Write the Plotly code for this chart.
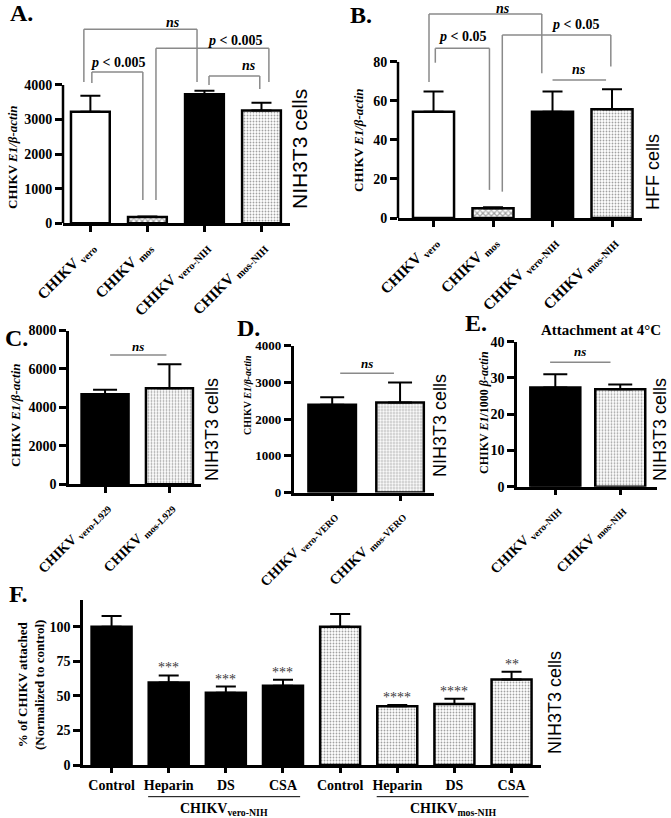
import plotly.graph_objects as go

W, H = 671, 818
SERIF = "Liberation Serif"
SANS = "Liberation Sans"

# ---------------- data ----------------
A_cats = ["CHIKV <sub>vero</sub>", "CHIKV <sub>mos</sub>", "CHIKV <sub>vero-NIH</sub>", "CHIKV <sub>mos-NIH</sub>"]
A_vals = [3225, 180, 3730, 3265]
A_errs = [465, 20, 100, 220]
A_fill = ["white", "checker", "black", "dots"]

B_cats = ["CHIKV <sub>vero</sub>", "CHIKV <sub>mos</sub>", "CHIKV <sub>vero-NIH</sub>", "CHIKV <sub>mos-NIH</sub>"]
B_vals = [54.5, 5.0, 54.5, 55.7]
B_errs = [10.3, 0.5, 10.3, 10.3]
B_fill = ["white", "checker", "black", "dots"]

C_cats = ["CHIKV <sub>vero-L929</sub>", "CHIKV <sub>mos-L929</sub>"]
C_vals = [4690, 5000]
C_errs = [225, 1250]
C_fill = ["black", "dots"]

D_cats = ["CHIKV <sub>vero-VERO</sub>", "CHIKV <sub>mos-VERO</sub>"]
D_vals = [2385, 2450]
D_errs = [210, 545]
D_fill = ["black", "dots"]

E_cats = ["CHIKV <sub>vero-NIH</sub>", "CHIKV <sub>mos-NIH</sub>"]
E_vals = [27.4, 26.9]
E_errs = [3.6, 1.3]
E_fill = ["black", "dots"]

F_cats = ["Control", "Heparin", "DS", "CSA", "Control", "Heparin", "DS", "CSA"]
F_vals = [100, 59.7, 52.2, 57.3, 100, 42.5, 44.2, 61.9]
F_errs = [7.8, 5.1, 4.6, 4.4, 9.2, 1.0, 3.8, 5.6]
F_fill = ["black"] * 4 + ["dots"] * 4
F_stars = ["", "***", "***", "***", "", "****", "****", "**"]
F_groups = ["CHIKV<sub>vero-NIH</sub>", "CHIKV<sub>mos-NIH</sub>"]
F_group_members = [(1, 3), (5, 7)]

# ---------------- styles ----------------
STYLE = {
    "white":   dict(color="white", shape="", fg="black", size=4, sol=0.3),
    "black":   dict(color="black", shape="", fg="black", size=4, sol=0.3),
    "checker": dict(color="white", shape="x", fg="black", size=4, sol=0.5),
    "dots":    dict(color="white", shape=".", fg="#555555", size=3, sol=0.3),
}

panels = [
    dict(cats=A_cats, vals=A_vals, errs=A_errs, fills=A_fill, xd=(63, 290), xr=(-0.48, 3.5),
         yd=(12, 223.3), yr=(0, 6111), yt=[0, 1000, 2000, 3000, 4000], ytop=4000,
         width=0.68, cap=10, angle=-45, ytf=14, xtf=15, xtl=6, manual_line=True),
    dict(cats=B_cats, vals=B_vals, errs=B_errs, fills=B_fill, xd=(398, 642), xr=(-0.597, 3.504),
         yd=(4, 218), yr=(0, 109.7), yt=[0, 20, 40, 60, 80], ytop=80,
         width=0.69, cap=10, angle=-45, ytf=14, xtf=15, xtl=6, manual_line=True),
    dict(cats=C_cats, vals=C_vals, errs=C_errs, fills=C_fill, xd=(69, 201), xr=(-0.56, 1.49),
         yd=(330.5, 484.3), yr=(0, 8000), yt=[0, 2000, 4000, 6000, 8000], ytop=8000,
         width=0.73, cap=12, angle=-45, ytf=14, xtf=14, xtl=6, manual_line=False),
    dict(cats=D_cats, vals=D_vals, errs=D_errs, fills=D_fill, xd=(293.5, 434), xr=(-0.57, 1.5),
         yd=(345.5, 492.5), yr=(0, 4000), yt=[0, 1000, 2000, 3000, 4000], ytop=4000,
         width=0.70, cap=12, angle=-45, ytf=13, xtf=14, xtl=6, manual_line=False),
    dict(cats=E_cats, vals=E_vals, errs=E_errs, fills=E_fill, xd=(517, 656.6), xr=(-0.59, 1.56),
         yd=(341.7, 486.7), yr=(0, 40), yt=[0, 10, 20, 30, 40], ytop=40,
         width=0.77, cap=12, angle=-45, ytf=14, xtf=14, xtl=6, manual_line=False),
    dict(cats=F_cats, vals=F_vals, errs=F_errs, fills=F_fill, xd=(83, 540.7), xr=(-0.5, 7.51),
         yd=(600, 765), yr=(0, 119.4), yt=[0, 25, 50, 75, 100], ytop=100,
         width=0.70, cap=10, angle=0, ytf=14, xtf=14, xtl=5, manual_line=False),
]


def px_x(p):
    return p / W


def px_y(p):
    return 1 - p / H


fig = go.Figure()
layout = dict(width=W, height=H, margin=dict(l=0, r=0, t=0, b=0, pad=0), autosize=False,
              paper_bgcolor="white", plot_bgcolor="rgba(0,0,0,0)", showlegend=False)
shapes = []
annotations = []

for i, p in enumerate(panels, start=1):
    xn = "x" if i == 1 else f"x{i}"
    yn = "y" if i == 1 else f"y{i}"
    xk = "xaxis" if i == 1 else f"xaxis{i}"
    yk = "yaxis" if i == 1 else f"yaxis{i}"
    n = len(p["vals"])
    st = [STYLE[f] for f in p["fills"]]
    fig.add_trace(go.Bar(
        x=list(range(n)), y=p["vals"], width=p["width"], xaxis=xn, yaxis=yn,
        marker=dict(color=[s["color"] for s in st],
                    line=dict(color="black", width=2.5),
                    pattern=dict(shape=[s["shape"] for s in st],
                                 fgcolor=[s["fg"] for s in st],
                                 bgcolor=[s["color"] for s in st],
                                 size=[s["size"] for s in st],
                                 solidity=[s["sol"] for s in st],
                                 fillmode="overlay")),
        error_y=dict(type="data", symmetric=False, array=p["errs"], arrayminus=[0] * n,
                     color="black", thickness=2, width=p["cap"]),
        hoverinfo="skip",
    ))
    layout[xk] = dict(domain=[px_x(p["xd"][0]), px_x(p["xd"][1])], range=list(p["xr"]),
                      anchor=yn, tickmode="array", tickvals=list(range(n)), ticktext=p["cats"],
                      tickangle=p["angle"], automargin=False,
                      tickfont=dict(family=SERIF, size=p["xtf"], color="black", weight="bold"),
                      showline=True, linewidth=2.5, linecolor="black",
                      ticks="outside", ticklen=p["xtl"], tickwidth=2.5, tickcolor="black",
                      showgrid=False, zeroline=False, fixedrange=True)
    layout[yk] = dict(domain=[px_y(p["yd"][1]), px_y(p["yd"][0])], range=list(p["yr"]),
                      anchor=xn, tickmode="array", tickvals=p["yt"], automargin=False,
                      tickfont=dict(family=SERIF, size=p["ytf"], color="black", weight="bold"),
                      showline=not p["manual_line"], linewidth=2.5, linecolor="black",
                      ticks="outside", ticklen=7, tickwidth=2.5, tickcolor="black",
                      showgrid=False, zeroline=False, fixedrange=True)
    if p["manual_line"]:
        shapes.append(dict(type="line", xref=f"{xn} domain", yref=yn, x0=0, x1=0, y0=0, y1=p["ytop"],
                           line=dict(color="black", width=2.5)))

GRAY = "#8a8a8a"


def bracket(i, xl, xr, y, yl=None, yr_=None, text="", tx=None, ty=None, size=14):
    xn = "x" if i == 1 else f"x{i}"
    yn = "y" if i == 1 else f"y{i}"
    ln = dict(color=GRAY, width=1.5)
    shapes.append(dict(type="line", xref=xn, yref=yn, x0=xl, x1=xr, y0=y, y1=y, line=ln))
    if yl is not None:
        shapes.append(dict(type="line", xref=xn, yref=yn, x0=xl, x1=xl, y0=y, y1=yl, line=ln))
    if yr_ is not None:
        shapes.append(dict(type="line", xref=xn, yref=yn, x0=xr, x1=xr, y0=y, y1=yr_, line=ln))
    annotations.append(dict(xref=xn, yref=yn, x=(xl + xr) / 2 if tx is None else tx, y=ty,
                            text=text, showarrow=False,
                            font=dict(family=SERIF, size=size, color="black", weight="bold")))


NS = "<i>ns</i>"
P005 = "<i>p</i> &lt; 0.005"
P05 = "<i>p</i> &lt; 0.05"

# panel A brackets
bracket(1, -0.114, 1.87, 5615, 4084, 4084, NS, 1.45, 5815)
bracket(1, 1.15, 3.13, 5066, 673, 4084, P005, 2.54, 5292)
bracket(1, 0.026, 0.92, 4373, 4055, 673, P005, 0.48, 4662)
bracket(1, 2.08, 2.97, 4257, 3997, 3881, NS, 2.78, 4575)
# panel B brackets
bracket(2, -0.076, 1.82, 104.6, 69.7, 74.2, NS, 1.17, 107.6)
bracket(2, 1.156, 2.98, 93.8, 13.5, 77.6, P05, 2.38, 99.0)
bracket(2, 0.03, 0.94, 87.0, 79.6, 14.4, P05, 0.49, 92.8)
bracket(2, 2.0, 2.9, 70.8, None, None, NS, 2.45, 75.9)
# C, D, E
bracket(3, 0.078, 0.953, 6726, None, None, NS, None, 7157, 13)
bracket(4, 0.118, 0.91, 3243, None, None, NS, None, 3497, 13)
bracket(5, -0.08, 0.85, 34.3, None, None, NS, None, 37.3, 13)

# F stars
for k, s in enumerate(F_stars):
    if s:
        annotations.append(dict(xref="x6", yref="y6", x=k, y=F_vals[k] + F_errs[k], yanchor="bottom",
                                yshift=-2, text=s, showarrow=False,
                                font=dict(family=SERIF, size=14, color="#3a3a3a")))
# F groups (line under the treated bars, label below)
for (g0, g1), g in zip(F_group_members, F_groups):
    x0, x1 = g0 - 0.36, g1 + 0.3
    shapes.append(dict(type="line", xref="x6", yref="y6 domain", x0=x0, x1=x1,
                       y0=-0.192, y1=-0.192, line=dict(color="black", width=1)))
    annotations.append(dict(xref="x6", yref="y6 domain", x=(x0 + x1) / 2, y=-0.205,
                            yanchor="top", text=g, showarrow=False,
                            font=dict(family=SERIF, size=14, color="black", weight="bold")))


def ann(text, x, y, size, family=SERIF, angle=0, bold=True):
    annotations.append(dict(xref="paper", yref="paper", x=px_x(x), y=px_y(y), text=text,
                            showarrow=False, textangle=angle, xanchor="center", yanchor="middle",
                            font=dict(family=family, size=size, color="black",
                                      weight="bold" if bold else "normal")))


# panel letters
ann("A.", 21, 13, 24)
ann("B.", 361, 15, 24)
ann("C.", 16, 338, 24)
ann("D.", 248, 328, 24)
ann("E.", 476, 323, 24)
ann("F.", 18, 594, 24)
ann("Attachment at 4°C", 601, 330, 15)

# y-axis titles
YT = "CHIKV <i>E1/β-actin</i>"
ann(YT, 12, 157, 13, angle=-90)
ann(YT, 358, 140, 13, angle=-90)
ann(YT, 15, 415, 13, angle=-90)
ann(YT, 247, 395, 10, angle=-90)
ann("CHIKV <i>E1</i>/1000 <i>β-actin</i>", 484, 413, 12, angle=-90)
ann("% of CHIKV attached<br>(Normalized to control)", 31, 685, 13, angle=-90)

# cell labels
ann("NIH3T3 cells", 300, 149, 21, family=SANS, angle=-90, bold=False)
ann("HFF cells", 653, 172, 18, family=SANS, angle=-90, bold=False)
ann("NIH3T3 cells", 212, 430, 18, family=SANS, angle=-90, bold=False)
ann("NIH3T3 cells", 440, 425, 18, family=SANS, angle=-90, bold=False)
ann("NIH3T3 cells", 660, 430, 18, family=SANS, angle=-90, bold=False)
ann("NIH3T3 cells", 555, 703, 18, family=SANS, angle=-90, bold=False)

layout["shapes"] = shapes
layout["annotations"] = annotations
fig.update_layout(**layout)
fig.write_html("out.html", config={"displayModeBar": False},
               post_script="document.body.style.margin='0px';document.body.style.overflow='hidden';")
